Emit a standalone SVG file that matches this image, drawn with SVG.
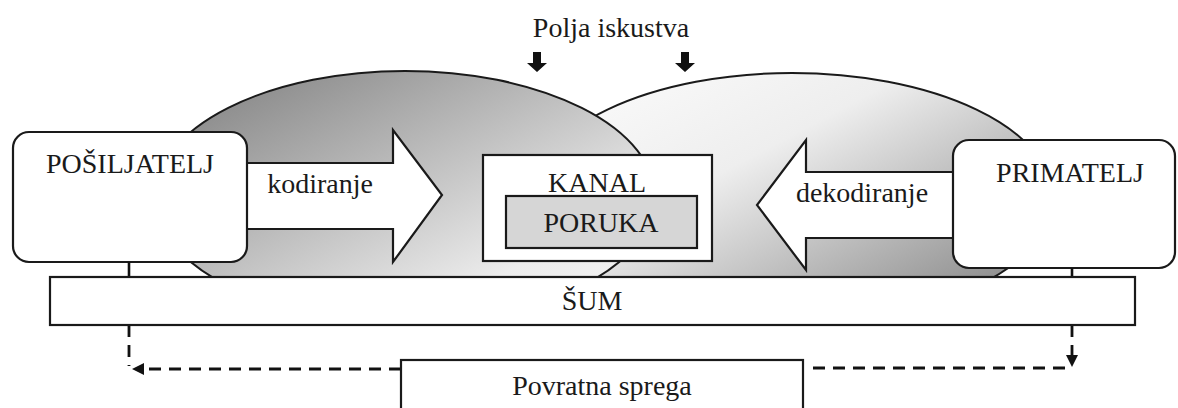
<svg xmlns="http://www.w3.org/2000/svg" width="1178" height="408" viewBox="0 0 1178 408">
  <style>
    .t { font-family: "Liberation Serif", "Times New Roman", serif; font-size: 28px; fill: #1a1a1a; }
    .box { fill: #ffffff; stroke: #1a1a1a; stroke-width: 2.2; }
    .ell { stroke: #1a1a1a; stroke-width: 2; }
    .dash { fill: none; stroke: #111; stroke-width: 2.8; stroke-dasharray: 12 8; }
    .solid { fill: none; stroke: #111; stroke-width: 2.6; }
  </style>
  <defs>
    <linearGradient id="gLeft" x1="0" y1="0" x2="1" y2="1">
      <stop offset="0" stop-color="#7a7a7a"/>
      <stop offset="0.75" stop-color="#ececec"/>
      <stop offset="1" stop-color="#f6f6f6"/>
    </linearGradient>
    <linearGradient id="gRight" x1="0" y1="0.1" x2="1" y2="1">
      <stop offset="0" stop-color="#fbfbfb"/>
      <stop offset="0.35" stop-color="#eeeeee"/>
      <stop offset="1" stop-color="#767676"/>
    </linearGradient>
    <marker id="ah" viewBox="0 0 12 12" refX="1" refY="6" markerWidth="12" markerHeight="12" markerUnits="userSpaceOnUse" orient="auto">
      <path d="M0,0 L12,6 L0,12 Z" fill="#111"/>
    </marker>
  </defs>

  <g id="polja-iskustva">
    <ellipse class="ell" cx="792" cy="198" rx="261" ry="125" fill="url(#gRight)"/>
    <ellipse class="ell" cx="405" cy="197" rx="250" ry="126" fill="url(#gLeft)"/>
    <text class="t" x="611" y="37" text-anchor="middle">Polja iskustva</text>
    <path d="M533,52 H541 V63 H547 L537,72 L527,63 H533 Z" fill="#111"/>
    <path d="M681,52 H689 V63 H695 L685,72 L675,63 H681 Z" fill="#111"/>
  </g>

  <g id="kodiranje">
    <polygon class="box" points="240,163 393,163 393,130 442,195 393,262 393,229 240,229"/>
    <text class="t" x="320" y="193" text-anchor="middle">kodiranje</text>
  </g>

  <g id="dekodiranje">
    <polygon class="box" points="960,172 806,172 806,140 757,205 806,270 806,238 960,238"/>
    <text class="t" x="862" y="202" text-anchor="middle">dekodiranje</text>
  </g>

  <g id="kanal">
    <rect class="box" x="483" y="155" width="229" height="106"/>
    <text class="t" x="597" y="192" text-anchor="middle">KANAL</text>
  </g>

  <g id="poruka">
    <rect x="506" y="196" width="191" height="52" fill="#d6d6d6" stroke="#1a1a1a" stroke-width="2.2"/>
    <text class="t" x="601" y="232" text-anchor="middle">PORUKA</text>
  </g>

  <g id="posiljatelj">
    <rect class="box" x="13" y="132" width="234" height="130" rx="16" ry="16"/>
    <text class="t" x="130" y="173" text-anchor="middle">POŠILJATELJ</text>
  </g>

  <g id="primatelj">
    <rect class="box" x="953" y="140" width="222" height="128" rx="16" ry="16"/>
    <text class="t" x="1070" y="182" text-anchor="middle">PRIMATELJ</text>
  </g>

  <g id="connectors">
    <line class="solid" x1="129" y1="262" x2="129" y2="277"/>
    <path class="dash" d="M129,325 V366"/>
    <path class="dash" d="M401,369 H143" marker-end="url(#ah)"/>
    <line class="solid" x1="1072" y1="268" x2="1072" y2="277"/>
    <path class="dash" d="M1072,325 V356" marker-end="url(#ah)"/>
    <path class="dash" d="M813,368 H1072"/>
  </g>

  <g id="sum">
    <rect class="box" x="50" y="277" width="1085" height="48"/>
    <text class="t" x="592" y="310" text-anchor="middle">ŠUM</text>
  </g>

  <g id="povratna-sprega">
    <rect class="box" x="401" y="360" width="402" height="60"/>
    <text class="t" x="602" y="395" text-anchor="middle">Povratna sprega</text>
  </g>
</svg>
